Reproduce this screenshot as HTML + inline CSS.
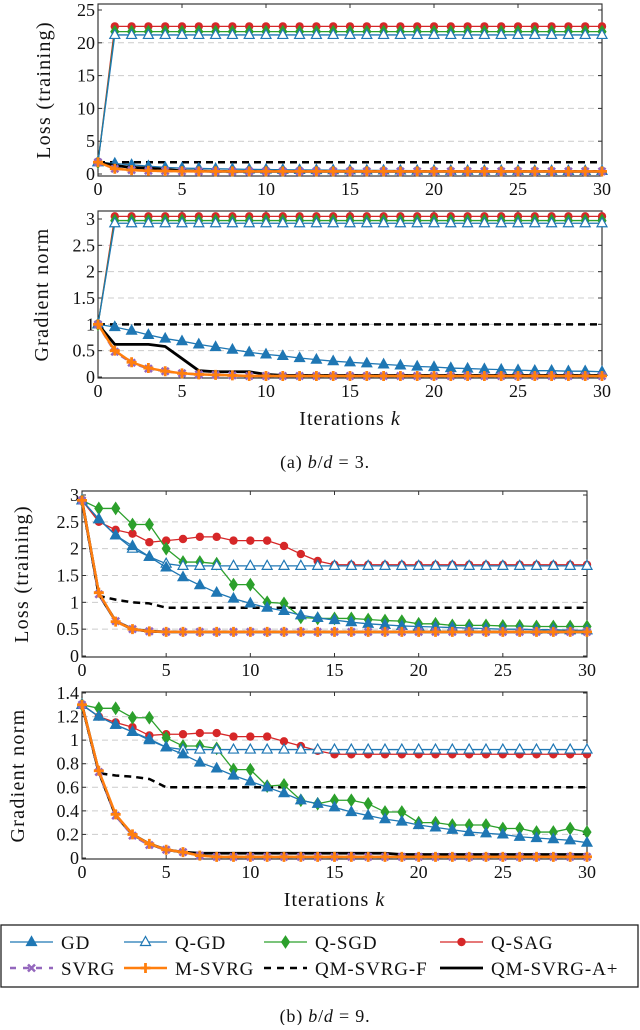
<!DOCTYPE html>
<html><head><meta charset="utf-8"><style>
html,body{margin:0;padding:0;background:#fff;}
svg text{font-family:"Liberation Serif",serif;fill:#111;}
</style></head><body>
<svg id="chart" width="640" height="1025" viewBox="0 0 640 1025" xmlns="http://www.w3.org/2000/svg"></svg>
<script>
const iterations = Array.from({length:31},(_,i)=>i);
const xTicks = [0,5,10,15,20,25,30];
// Panel A (b/d=3) loss
const aLossQSAG = [1.8].concat(Array(30).fill(22.5));
const aLossQSGD = [1.8].concat(Array(30).fill(21.7));
const aLossQGD = [1.8].concat(Array(30).fill(21.2));
const aLossGD = [1.8,1.6,1.4,1.2,1.0,0.9,0.85,0.8,0.75,0.7,0.68,0.65,0.62,0.6,0.58,0.56,0.55,0.54,0.53,0.52,0.51,0.5,0.5,0.5,0.49,0.49,0.48,0.48,0.48,0.47,0.47];
const aLossF = Array(31).fill(1.8);
const aLossAplus = [1.8,1.3,1.0,0.9,0.7,0.5,0.45,0.42,0.4,0.4,0.4,0.4,0.4,0.4,0.4,0.4,0.4,0.4,0.4,0.4,0.4,0.4,0.4,0.4,0.4,0.4,0.4,0.4,0.4,0.4,0.4];
const aLossSVRG = [1.8,0.8,0.6,0.5,0.45,0.42,0.4,0.4,0.4,0.4,0.4,0.4,0.4,0.4,0.4,0.4,0.4,0.4,0.4,0.4,0.4,0.4,0.4,0.4,0.4,0.4,0.4,0.4,0.4,0.4,0.4];
const aLossMSVRG = aLossSVRG.slice();
// Panel A gradient
const aGradQSAG = [1.0].concat(Array(30).fill(3.05));
const aGradQSGD = [1.0].concat(Array(30).fill(2.97));
const aGradQGD = [1.0].concat(Array(30).fill(2.92));
const aGradGD = [1,0.95,0.88,0.8,0.73,0.68,0.62,0.57,0.52,0.47,0.43,0.4,0.36,0.33,0.3,0.28,0.26,0.24,0.22,0.2,0.19,0.17,0.16,0.15,0.14,0.13,0.12,0.12,0.11,0.11,0.1];
const aGradF = Array(31).fill(1.0);
const aGradAplus = [1,0.62,0.62,0.62,0.58,0.35,0.12,0.1,0.1,0.1,0.05,0.03,0.03,0.03,0.03,0.03,0.03,0.03,0.03,0.03,0.03,0.03,0.03,0.03,0.03,0.03,0.03,0.03,0.03,0.03,0.03];
const aGradSVRG = [1,0.48,0.27,0.16,0.11,0.07,0.05,0.04,0.03,0.02,0.02,0.02,0.02,0.02,0.02,0.02,0.02,0.02,0.02,0.02,0.02,0.02,0.02,0.02,0.02,0.02,0.02,0.02,0.02,0.02,0.02];
const aGradMSVRG = [1,0.5,0.28,0.17,0.11,0.07,0.05,0.04,0.03,0.02,0.02,0.02,0.02,0.02,0.02,0.02,0.02,0.02,0.02,0.02,0.02,0.02,0.02,0.02,0.02,0.02,0.02,0.02,0.02,0.02,0.02];
// Panel B (b/d=9) loss
const bLossGD = [2.9,2.55,2.25,2.05,1.85,1.65,1.47,1.32,1.18,1.07,0.98,0.9,0.84,0.76,0.71,0.67,0.63,0.6,0.58,0.56,0.55,0.54,0.53,0.52,0.51,0.5,0.5,0.49,0.49,0.48,0.48];
const bLossQGD = [2.9,2.55,2.25,2.0,1.85,1.72,1.68,1.68,1.68,1.68,1.68,1.68,1.68,1.68,1.68,1.68,1.68,1.68,1.68,1.68,1.68,1.68,1.68,1.68,1.68,1.68,1.68,1.68,1.68,1.68,1.68];
const bLossQSGD = [2.9,2.75,2.75,2.45,2.45,2.0,1.75,1.75,1.72,1.33,1.33,1.0,0.98,0.72,0.7,0.7,0.7,0.68,0.66,0.65,0.6,0.6,0.57,0.57,0.57,0.56,0.56,0.55,0.55,0.55,0.55];
const bLossQSAG = [2.9,2.5,2.35,2.28,2.12,2.15,2.18,2.22,2.22,2.15,2.15,2.15,2.05,1.9,1.77,1.7,1.7,1.7,1.7,1.7,1.7,1.7,1.7,1.7,1.7,1.7,1.7,1.7,1.7,1.7,1.7];
const bLossF = [2.9,1.12,1.05,1.0,0.98,0.9,0.9,0.9,0.9,0.9,0.9,0.9,0.9,0.9,0.9,0.9,0.9,0.9,0.9,0.9,0.9,0.9,0.9,0.9,0.9,0.9,0.9,0.9,0.9,0.9,0.9];
const bLossAplus = [2.9,1.15,0.65,0.5,0.46,0.45,0.45,0.45,0.45,0.45,0.45,0.45,0.45,0.45,0.45,0.45,0.45,0.45,0.45,0.45,0.45,0.45,0.45,0.45,0.45,0.45,0.45,0.45,0.45,0.45,0.45];
const bLossSVRG = bLossAplus.slice();
const bLossMSVRG = [2.9,1.18,0.64,0.5,0.46,0.45,0.45,0.45,0.45,0.45,0.45,0.45,0.45,0.45,0.45,0.45,0.45,0.45,0.45,0.45,0.45,0.45,0.45,0.45,0.45,0.45,0.45,0.45,0.45,0.45,0.45];
// Panel B gradient
const bGradGD = [1.3,1.2,1.13,1.07,1.0,0.94,0.88,0.81,0.76,0.7,0.65,0.6,0.55,0.49,0.46,0.43,0.39,0.36,0.33,0.31,0.28,0.26,0.24,0.22,0.21,0.2,0.18,0.17,0.16,0.15,0.13];
const bGradQGD = [1.3,1.2,1.13,1.07,1.01,0.94,0.92,0.92,0.92,0.92,0.92,0.92,0.92,0.92,0.92,0.92,0.92,0.92,0.92,0.92,0.92,0.92,0.92,0.92,0.92,0.92,0.92,0.92,0.92,0.92,0.92];
const bGradQSGD = [1.3,1.27,1.27,1.19,1.19,1.02,0.95,0.95,0.93,0.75,0.75,0.61,0.62,0.49,0.46,0.49,0.49,0.46,0.39,0.39,0.3,0.3,0.28,0.28,0.28,0.25,0.25,0.22,0.22,0.25,0.22];
const bGradQSAG = [1.3,1.2,1.15,1.11,1.04,1.05,1.05,1.06,1.06,1.03,1.03,1.03,0.99,0.95,0.91,0.88,0.88,0.88,0.88,0.88,0.88,0.88,0.88,0.88,0.88,0.88,0.88,0.88,0.88,0.88,0.88];
const bGradF = [1.3,0.72,0.7,0.69,0.67,0.6,0.6,0.6,0.6,0.6,0.6,0.6,0.6,0.6,0.6,0.6,0.6,0.6,0.6,0.6,0.6,0.6,0.6,0.6,0.6,0.6,0.6,0.6,0.6,0.6,0.6];
const bGradAplus = [1.3,0.73,0.36,0.2,0.12,0.07,0.05,0.04,0.04,0.04,0.04,0.04,0.04,0.04,0.04,0.04,0.04,0.04,0.04,0.03,0.03,0.03,0.03,0.03,0.03,0.03,0.03,0.03,0.03,0.03,0.03];
const bGradSVRG = [1.3,0.73,0.36,0.19,0.11,0.07,0.05,0.02,0.01,0.01,0.01,0.01,0.01,0.01,0.01,0.01,0.01,0.01,0.01,0.01,0.01,0.01,0.01,0.01,0.01,0.01,0.01,0.01,0.01,0.01,0.01];
const bGradMSVRG = [1.3,0.74,0.37,0.2,0.12,0.07,0.05,0.02,0.01,0.01,0.01,0.01,0.01,0.01,0.01,0.01,0.01,0.01,0.01,0.01,0.01,0.01,0.01,0.01,0.01,0.01,0.01,0.01,0.01,0.01,0.01];

const NS='http://www.w3.org/2000/svg';
const svg=document.getElementById('chart');
function mk(tag,attrs,parent){const e=document.createElementNS(NS,tag);for(const k in attrs)e.setAttribute(k,attrs[k]);(parent||svg).appendChild(e);return e;}

const BLUE='#1f77b4',GREEN='#2ca02c',RED='#d62728',PURPLE='#9467bd',ORANGE='#ff7f0e';
const styles={
 GD:{c:BLUE,w:1.3,m:'tri',fill:true},
 QGD:{c:BLUE,w:1.3,m:'tri',fill:false},
 QSGD:{c:GREEN,w:1.3,m:'dia'},
 QSAG:{c:RED,w:1.3,m:'circ'},
 SVRG:{c:PURPLE,w:2.5,m:'x',dash:'6 4'},
 MSVRG:{c:ORANGE,w:2.5,m:'plus'},
 F:{c:'#000',w:2.5,m:null,dash:'7 5'},
 Aplus:{c:'#000',w:2.8,m:null}
};
function marker(g,kind,st,x,y){
 if(kind==='tri'){mk('polygon',{points:`${x},${y-5.5} ${x-5},${y+3.5} ${x+5},${y+3.5}`,fill:st.fill?st.c:'#fff',stroke:st.c,'stroke-width':1.2},g);}
 else if(kind==='dia'){mk('polygon',{points:`${x},${y-6} ${x+4},${y} ${x},${y+6} ${x-4},${y}`,fill:st.c,stroke:st.c,'stroke-width':1},g);}
 else if(kind==='circ'){mk('circle',{cx:x,cy:y,r:4.2,fill:st.c},g);}
 else if(kind==='x'){mk('path',{d:`M${x-3.5},${y-3.5}L${x+3.5},${y+3.5}M${x-3.5},${y+3.5}L${x+3.5},${y-3.5}`,stroke:st.c,'stroke-width':2.5},g);}
 else if(kind==='plus'){mk('path',{d:`M${x-5},${y}L${x+5},${y}M${x},${y-5}L${x},${y+5}`,stroke:st.c,'stroke-width':2.8},g);}
}
function panel(cfg){
 const g=mk('g',{});
 
 
 const sx=v=>cfg.x0+(v-0)/(30-0)*(cfg.x1-cfg.x0);
 const sy=v=>cfg.yb+(v-cfg.ymin)/(cfg.ymax-cfg.ymin)*(cfg.yt-cfg.yb);
 cfg.yTicks.forEach(t=>{
  if(t>cfg.ymin && t<cfg.ymax) mk('line',{x1:cfg.x0,x2:cfg.x1,y1:sy(t),y2:sy(t),stroke:'#ccc','stroke-width':1,'stroke-dasharray':'6 4'},g);
 });
 const fr=mk('rect',{x:cfg.x0,y:cfg.ft,width:cfg.x1-cfg.x0,height:cfg.fb-cfg.ft,fill:'none',stroke:'#222','stroke-width':1.1},g);
 
 
 xTicks.forEach(t=>{
  mk('line',{x1:sx(t),x2:sx(t),y1:cfg.fb,y2:cfg.fb-4,stroke:'#333'},g);
  mk('line',{x1:sx(t),x2:sx(t),y1:cfg.ft,y2:cfg.ft+4,stroke:'#333'},g);
  const tx=mk('text',{x:sx(t),y:cfg.fb+19,'text-anchor':'middle','font-size':18},g);
  tx.textContent=t;
  
  
 });
 cfg.yTicks.forEach(t=>{
  mk('line',{x1:cfg.x0,x2:cfg.x0+4,y1:sy(t),y2:sy(t),stroke:'#333'},g);
  mk('line',{x1:cfg.x1,x2:cfg.x1-4,y1:sy(t),y2:sy(t),stroke:'#333'},g);
  const tx=mk('text',{x:cfg.x0-3,y:sy(t)+6,'text-anchor':'end','font-size':18},g);
  tx.textContent=t;
  
  
 });
 const yl=mk('text',{x:0,y:0,'text-anchor':'middle','font-size':20,'letter-spacing':1.3,transform:`translate(${cfg.ylx},${(cfg.ft+cfg.fb)/2}) rotate(-90)`},g);
 yl.textContent=cfg.ylabel;
 
 
 const cg=mk('g',{},g);
 cg.setAttribute('clip-path','url(#clip-'+cfg.name+')');
 const cp=mk('clipPath',{id:'clip-'+cfg.name},g);
 mk('rect',{x:cfg.x0-8,y:cfg.ft-2,width:cfg.x1-cfg.x0+16,height:cfg.fb-cfg.ft+10},cp);
 cfg.series.forEach(([key,data])=>{
  const st=styles[key];
  const sg=mk('g',{},cg);
  
  
  const pts=data.map((v,i)=>sx(iterations[i])+','+sy(v)).join(' ');
  const pl=mk('polyline',{points:pts,fill:'none',stroke:st.c,'stroke-width':st.w,'stroke-linejoin':'round'},sg);
  if(st.dash)pl.setAttribute('stroke-dasharray',st.dash);
  if(st.m) data.forEach((v,i)=>marker(sg,st.m,st,sx(iterations[i]),sy(v)));
 });
 if(cfg.xlabel){
  const xl=mk('text',{x:(cfg.x0+cfg.x1)/2,y:cfg.fb+47,'text-anchor':'middle','font-size':20,'letter-spacing':1},g);
  xl.innerHTML='Iterations <tspan font-style="italic">k</tspan>';
  
  
 }
}
const order=k=>[['F',k.F],['QSAG',k.QSAG],['QSGD',k.QSGD],['QGD',k.QGD],['GD',k.GD],['Aplus',k.Aplus],['SVRG',k.SVRG],['MSVRG',k.MSVRG]];
panel({name:'panel-a-loss',x0:98,x1:602,ft:4,fb:176,yt:10,yb:174,ymin:0,ymax:25,yTicks:[0,5,10,15,20,25],ylx:50,ylabel:'Loss (training)',
 series:order({F:aLossF,QSAG:aLossQSAG,QSGD:aLossQSGD,QGD:aLossQGD,GD:aLossGD,Aplus:aLossAplus,SVRG:aLossSVRG,MSVRG:aLossMSVRG})});
panel({name:'panel-a-grad',x0:98,x1:602,ft:211,fb:378,yt:219,yb:377,ymin:0,ymax:3,yTicks:[0,0.5,1,1.5,2,2.5,3],ylx:48,ylabel:'Gradient norm',xlabel:true,
 series:order({F:aGradF,QSAG:aGradQSAG,QSGD:aGradQSGD,QGD:aGradQGD,GD:aGradGD,Aplus:aGradAplus,SVRG:aGradSVRG,MSVRG:aGradMSVRG})});
panel({name:'panel-b-loss',x0:82,x1:587,ft:491,fb:657,yt:495,yb:656,ymin:0,ymax:3,yTicks:[0,0.5,1,1.5,2,2.5,3],ylx:28,ylabel:'Loss (training)',
 series:order({F:bLossF,QSAG:bLossQSAG,QSGD:bLossQSGD,QGD:bLossQGD,GD:bLossGD,Aplus:bLossAplus,SVRG:bLossSVRG,MSVRG:bLossMSVRG})});
panel({name:'panel-b-grad',x0:82,x1:587,ft:692,fb:859,yt:693,yb:858,ymin:0,ymax:1.4,yTicks:[0,0.2,0.4,0.6,0.8,1,1.2,1.4],ylx:24,ylabel:'Gradient norm',xlabel:true,
 series:order({F:bGradF,QSAG:bGradQSAG,QSGD:bGradQSGD,QGD:bGradQGD,GD:bGradGD,Aplus:bGradAplus,SVRG:bGradSVRG,MSVRG:bGradMSVRG})});

function caption(y,label,val,name){
 const t=mk('text',{x:325,y:y,'text-anchor':'middle','font-size':18,'letter-spacing':0.8});
 t.innerHTML=label+' <tspan font-style="italic">b</tspan>/<tspan font-style="italic">d</tspan> = '+val+'.';
 
 
}
caption(468,'(a)','3','caption-a');
caption(1022,'(b)','9','caption-b');

const lg=mk('g',{});


mk('rect',{x:1,y:925,width:637,height:62,fill:'#fff',stroke:'#222','stroke-width':1.3},lg);
const legendEntries=[['GD','GD',10,942],['QGD','Q-GD',124,942],['QSGD','Q-SGD',264,942],['QSAG','Q-SAG',440,942],
 ['SVRG','SVRG',10,968],['MSVRG','M-SVRG',124,968],['F','QM-SVRG-F',264,968],['Aplus','QM-SVRG-A+',440,968]];
legendEntries.forEach(([k,lab,x,y])=>{
 const st=styles[k];
 const eg=mk('g',{},lg);
 
 
 const ln=mk('line',{x1:x,x2:x+43,y1:y,y2:y,stroke:st.c,'stroke-width':st.w},eg);
 if(st.dash)ln.setAttribute('stroke-dasharray',k==='F'?'7 6':'6 7');
 if(st.m)marker(eg,st.m,st,x+21.5,y);
 const t=mk('text',{x:x+51,y:y+7,'font-size':19,'letter-spacing':0.9},eg);
 t.textContent=lab;
});
</script>
</body></html>
